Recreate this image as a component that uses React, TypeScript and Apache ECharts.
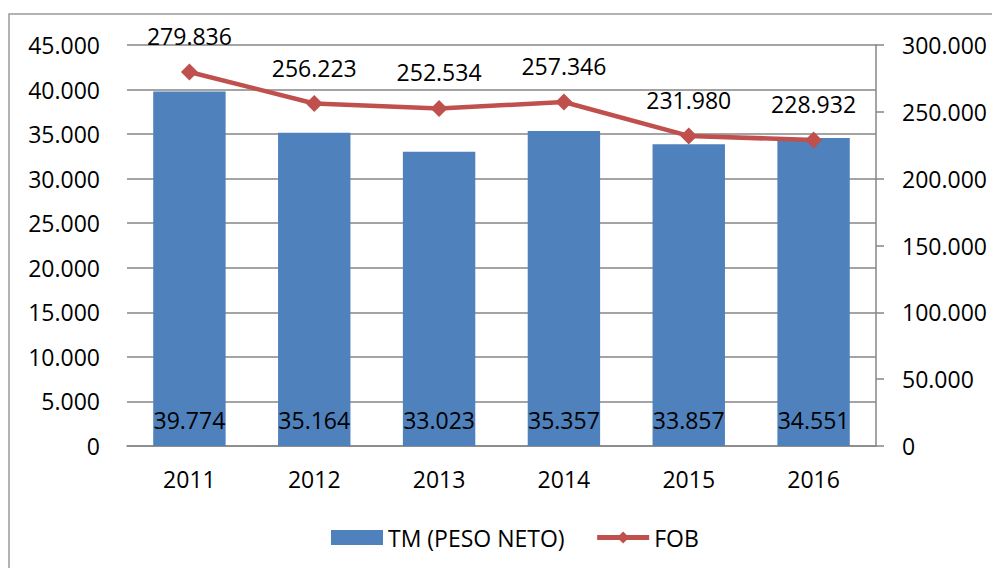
import React, { useEffect, useRef } from "react";
import * as echarts from "echarts";

const categories = ["2011", "2012", "2013", "2014", "2015", "2016"];
const tmValues = [39774, 35164, 33023, 35357, 33857, 34551];
const fobValues = [279836, 256223, 252534, 257346, 231980, 228932];

const fmt = (v: number) => String(v).replace(/\B(?=(\d{3})+(?!\d))/g, ".");

const FONT = "Open Sans";
const FS = 23;

export default function App() {
  const ref = useRef<HTMLDivElement>(null);
  useEffect(() => {
    if (!ref.current) return;
    const chart = echarts.init(ref.current, null, { renderer: "svg" });
    chart.setOption({
      animation: false,
      backgroundColor: "#ffffff",
      textStyle: { fontFamily: FONT },
      graphic: [
        {
          type: "rect",
          shape: { x: 9, y: 14, width: 1000, height: 600 },
          style: { fill: "none", stroke: "#9a9a9a", lineWidth: 1.5 },
          silent: true,
          z: -1,
        },
      ],
      grid: { left: 127, right: 116, top: 45, bottom: 122 },
      legend: {
        bottom: 14,
        left: 326,
        itemWidth: 52,
        itemHeight: 15,
        itemGap: 30,
        textStyle: { fontFamily: FONT, fontSize: FS, color: "#000" },
        data: [
          { name: "TM (PESO NETO)", icon: "rect" },
          { name: "FOB", lineStyle: { width: 5, color: "#C0504D" } },
        ],
      },
      xAxis: {
        type: "category",
        data: categories,
        axisTick: { show: false },
        axisLine: { lineStyle: { color: "#868686", width: 1.5 } },
        axisLabel: { color: "#000", fontSize: FS, fontFamily: FONT, margin: 21 },
      },
      yAxis: [
        {
          type: "value",
          min: 0,
          max: 45000,
          interval: 5000,
          axisLine: { show: false },
          axisTick: { show: false },
          splitLine: { lineStyle: { color: "#868686", width: 1.5 } },
          axisLabel: {
            color: "#000",
            fontSize: FS,
            fontFamily: FONT,
            margin: 27,
            formatter: (v: number) => fmt(v),
          },
        },
        {
          type: "value",
          min: 0,
          max: 300000,
          interval: 50000,
          position: "right",
          axisLine: { show: true, lineStyle: { color: "#868686", width: 1.5 } },
          axisTick: { show: true, length: 8, lineStyle: { color: "#868686", width: 1.5 } },
          splitLine: { show: false },
          axisLabel: {
            color: "#000",
            fontSize: FS,
            fontFamily: FONT,
            margin: 26,
            formatter: (v: number) => fmt(v),
          },
        },
      ],
      series: [
        {
          name: "TM (PESO NETO)",
          type: "bar",
          yAxisIndex: 0,
          data: tmValues,
          barCategoryGap: "42%",
          itemStyle: { color: "#4F81BD" },
          label: {
            show: true,
            position: "insideBottom",
            distance: 15,
            color: "#000",
            fontSize: FS,
            fontFamily: FONT,
            formatter: (p: any) => fmt(p.value),
          },
        },
        {
          name: "FOB",
          type: "line",
          yAxisIndex: 1,
          data: fobValues,
          symbol: "diamond",
          symbolSize: 17,
          lineStyle: { color: "#C0504D", width: 4.5 },
          itemStyle: { color: "#C0504D" },
          label: {
            show: true,
            position: "top",
            distance: 16,
            color: "#000",
            fontSize: FS,
            fontFamily: FONT,
            formatter: (p: any) => fmt(p.value),
          },
        },
      ],
    });
    return () => chart.dispose();
  }, []);
  return (
    <div
      ref={ref}
      style={{ position: "fixed", left: 0, top: 0, width: 992, height: 568 }}
    />
  );
}
